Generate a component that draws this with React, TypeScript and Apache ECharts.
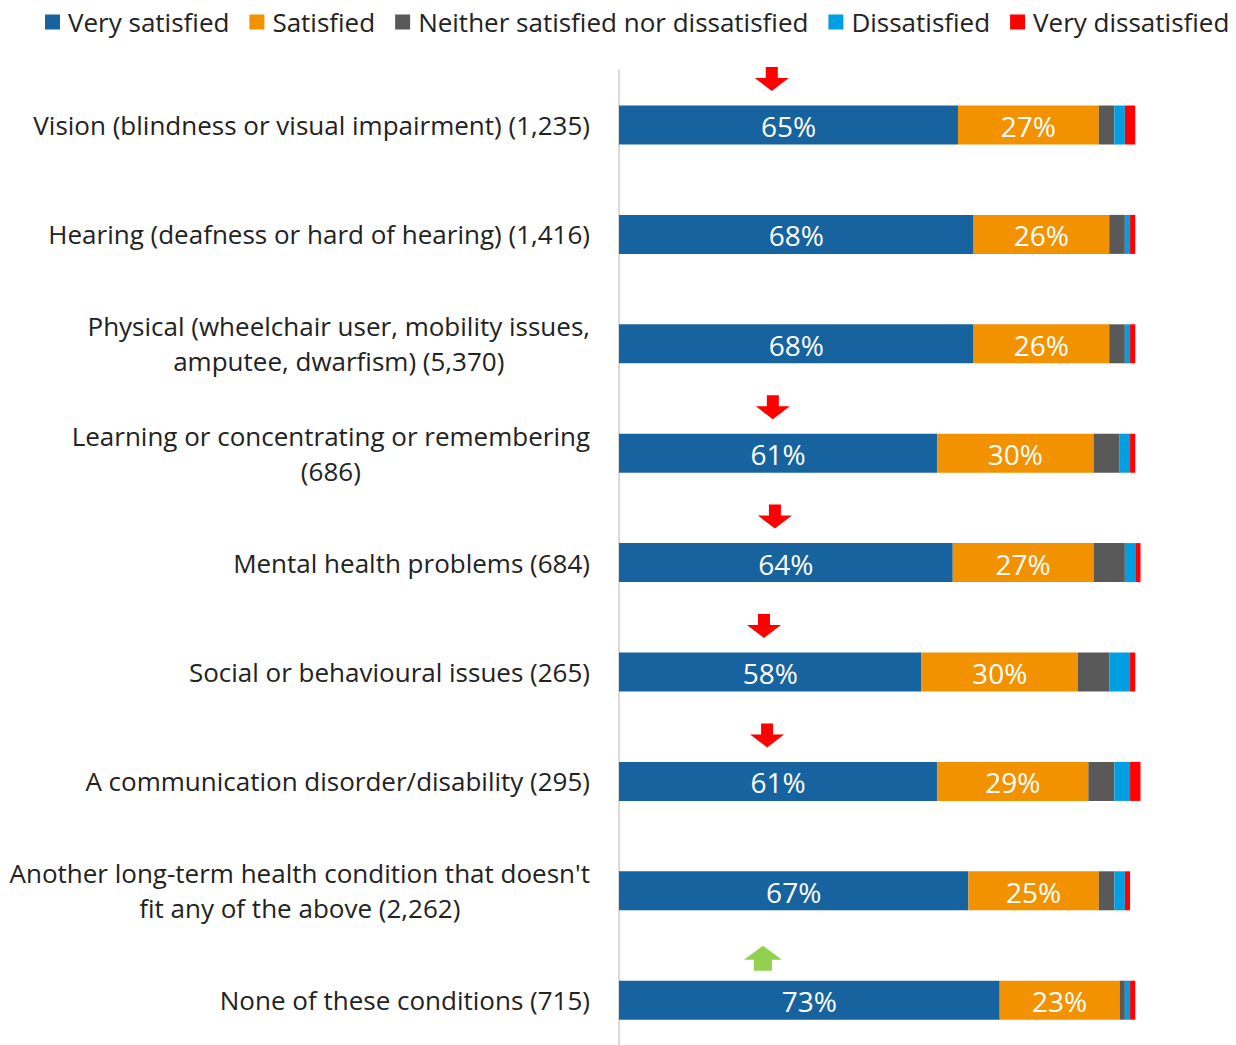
import React, { useEffect, useRef } from "react";
import * as echarts from "echarts";

const categories = [
  "Vision (blindness or visual impairment) (1,235)",
  "Hearing (deafness or hard of hearing) (1,416)",
  "Physical (wheelchair user, mobility issues,\namputee, dwarfism) (5,370)",
  "Learning or concentrating or remembering\n(686)",
  "Mental health problems (684)",
  "Social or behavioural issues (265)",
  "A communication disorder/disability (295)",
  "Another long-term health condition that doesn't\nfit any of the above (2,262)",
  "None of these conditions (715)",
];

const seriesNames = [
  "Very satisfied",
  "Satisfied",
  "Neither satisfied nor dissatisfied",
  "Dissatisfied",
  "Very dissatisfied",
];
const seriesColors = ["#1763a0", "#f39200", "#595959", "#009fe3", "#ff0000"];

const verySatisfied = [65, 68, 68, 61, 64, 58, 61, 67, 73];
const satisfied = [27, 26, 26, 30, 27, 30, 29, 25, 23];
const neither = [3, 3, 3, 5, 6, 6, 5, 3, 1];
const dissatisfied = [2, 1, 1, 2, 2, 4, 3, 2, 1];
const veryDissatisfied = [2, 1, 1, 1, 1, 1, 2, 1, 1];

const downArrowRows = [0, 3, 4, 5, 6];
const downArrowX = [29.3, 29.5, 29.9, 27.8, 28.4];
const upArrowRows = [8];
const upArrowX = [27.6];

const FONT = "Open Sans";

export default function App() {
  const ref = useRef<HTMLDivElement>(null);
  useEffect(() => {
    document.body.style.margin = "0";
    document.body.style.overflow = "hidden";
    const chart = echarts.init(ref.current!, null, { renderer: "svg" });
    const values = [verySatisfied, satisfied, neither, dissatisfied, veryDissatisfied];
    const barSeries = values.map((vals, i) => ({
      name: seriesNames[i],
      type: "bar",
      stack: "total",
      barWidth: 39,
      data: vals,
      itemStyle: { color: seriesColors[i] },
      label: {
        show: i < 2,
        position: "inside",
        formatter: "{c}%",
        color: "#ffffff",
        fontSize: 28,
        fontFamily: FONT,
        offset: [0, 1],
      },
    }));
    chart.setOption({
      animation: false,
      legend: {
        data: seriesNames,
        left: 45,
        top: 9,
        itemWidth: 15,
        itemHeight: 15,
        itemGap: 20,
        padding: 0,
        icon: "rect",
        textStyle: {
          fontSize: 26,
          fontFamily: FONT,
          color: "#222222",
          padding: [0, 0, 0, 3],
        },
      },
      grid: { left: 619, right: 95.5, top: 70.3, height: 984.6 },
      xAxis: { type: "value", min: 0, max: 100, show: false },
      yAxis: {
        type: "category",
        inverse: true,
        data: categories,
        axisTick: { show: false },
        axisLine: { show: true, lineStyle: { color: "#d9d9d9", width: 2 } },
        axisLabel: {
          margin: 29,
          formatter: (v: string) =>
            v
              .split("\n")
              .map((l) => `{c|${l}}`)
              .join("\n"),
          rich: {
            c: {
              align: "center",
              fontSize: 26,
              fontFamily: FONT,
              color: "#222222",
              lineHeight: 35,
            },
          },
        },
      },
      series: [
        ...barSeries,
        {
          type: "scatter",
          silent: true,
          symbol: "path://M11,0 L23,0 L23,11 L34,11 L17,24 L0,11 L11,11 Z",
          symbolSize: [34, 24],
          symbolOffset: [0, -46],
          itemStyle: { color: "#ff0000", opacity: 1 },
          data: downArrowRows.map((r, i) => [downArrowX[i], r]),
          z: 5,
        },
        {
          type: "scatter",
          silent: true,
          symbol: "path://M19,0 L38,14 L28,14 L28,25 L10,25 L10,14 L0,14 Z",
          symbolSize: [38, 25],
          symbolOffset: [0, -42],
          itemStyle: { color: "#92d050", opacity: 1 },
          data: upArrowRows.map((r, i) => [upArrowX[i], r]),
          z: 5,
        },
      ],
    });
    return () => chart.dispose();
  }, []);
  return <div ref={ref} style={{ width: 1236, height: 1060 }} />;
}
